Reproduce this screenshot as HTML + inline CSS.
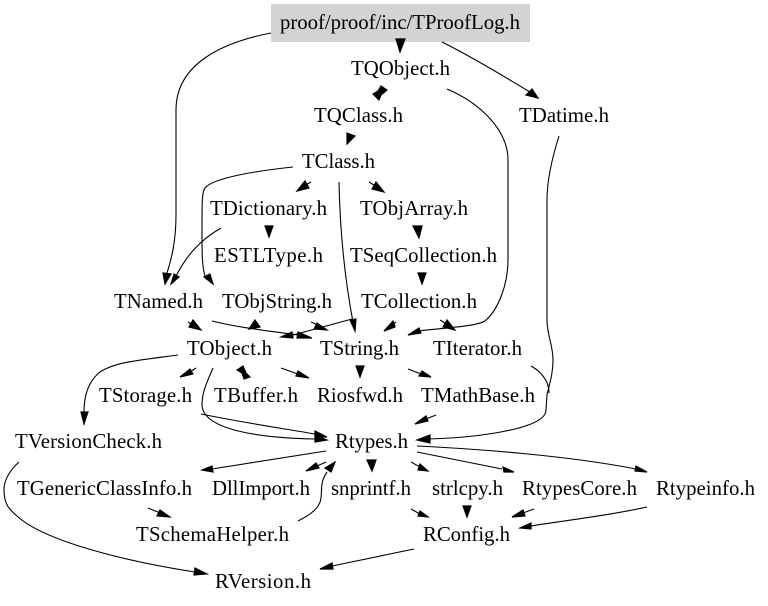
<!DOCTYPE html>
<html><head><meta charset="utf-8"><style>
html,body{margin:0;padding:0;background:#fff;width:768px;height:606px;overflow:hidden}
svg{display:block}
text{font-family:"Liberation Serif",serif;font-size:20.8px;fill:#000}
path{fill:none;stroke:#000;stroke-width:1.1}
polygon{fill:#000;stroke:#000;stroke-width:1.2;stroke-linejoin:miter}
</style></head><body>
<svg width="768" height="606" viewBox="0 0 768 606" xmlns="http://www.w3.org/2000/svg">
<rect x="271" y="4" width="259" height="38" fill="#d3d3d3"/>
<text x="280" y="29" textLength="240">proof/proof/inc/TProofLog.h</text>
<text x="351" y="75" textLength="99">TQObject.h</text>
<text x="314" y="122" textLength="89">TQClass.h</text>
<text x="519" y="122" textLength="90">TDatime.h</text>
<text x="302" y="168" textLength="73">TClass.h</text>
<text x="210" y="215" textLength="117">TDictionary.h</text>
<text x="360" y="215" textLength="108">TObjArray.h</text>
<text x="214" y="262" textLength="109">ESTLType.h</text>
<text x="350" y="262" textLength="147">TSeqCollection.h</text>
<text x="114" y="308" textLength="89">TNamed.h</text>
<text x="222" y="308" textLength="110">TObjString.h</text>
<text x="361" y="308" textLength="116">TCollection.h</text>
<text x="187" y="355" textLength="85">TObject.h</text>
<text x="320" y="355" textLength="79">TString.h</text>
<text x="433" y="355" textLength="89">TIterator.h</text>
<text x="99" y="402" textLength="93">TStorage.h</text>
<text x="214" y="402" textLength="84">TBuffer.h</text>
<text x="317" y="402" textLength="86">Riosfwd.h</text>
<text x="421" y="402" textLength="114">TMathBase.h</text>
<text x="15" y="448" textLength="147">TVersionCheck.h</text>
<text x="335" y="448" textLength="73">Rtypes.h</text>
<text x="17" y="495" textLength="175">TGenericClassInfo.h</text>
<text x="212" y="495" textLength="98">DllImport.h</text>
<text x="331" y="495" textLength="80">snprintf.h</text>
<text x="432" y="495" textLength="71">strlcpy.h</text>
<text x="522" y="495" textLength="115">RtypesCore.h</text>
<text x="656" y="495" textLength="99">Rtypeinfo.h</text>
<text x="136" y="541" textLength="153">TSchemaHelper.h</text>
<text x="423" y="541" textLength="87">RConfig.h</text>
<text x="215" y="588" textLength="96">RVersion.h</text>

<!-- edges -->
<path d="M271,33 C220,43 176,65 176,110 L176,215 C176,240 172,258 166,276"/>
<polygon points="163,273 171,274 165,284"/>
<polygon points="396,39 405,39 400,52"/>
<path d="M442,42 C470,56 500,74 530,92"/>
<polygon points="532,89 526,95 538,98"/>
<polygon points="373,94 379,100 381,95 387,90 381,86 378,91"/>
<path d="M447,89 C480,103 508,130 508,160 L508,260 C508,285 498,310 485,321 C475,327 440,328 419,331"/>
<polygon points="419,328 421,333 408,335"/>
<path d="M559,136 C553,155 547,180 547,200 L547,320 C547,335 553,345 553,360 C553,375 549,385 547,395 L546,410 C546,430 470,438 428,439"/>
<polygon points="430,435 430,443 417,440"/>
<path d="M531,366 C540,371 549,380 549,393"/>
<polygon points="347,133 355,136 347,144"/>
<path d="M311,182 L304,186"/>
<polygon points="297,191 309,188 305,181"/>
<path d="M369,182 L377,187"/>
<polygon points="376,182 372,189 384,192"/>
<path d="M293,167 C255,171 213,178 205,188 C202,192 202,200 202,233 C202,255 202,265 205,276"/>
<polygon points="204,277 210,274 213,284"/>
<path d="M339,182 C340,230 345,280 353,322"/>
<polygon points="350,320 356,319 355,331"/>
<polygon points="265,226 273,226 269,237"/>
<path d="M221,228 C200,240 187,255 176,276"/>
<polygon points="174,274 179,277 171,284"/>
<polygon points="413,226 422,226 419,238"/>
<polygon points="418,273 426,273 422,284"/>
<path d="M396,322 L390,326"/>
<polygon points="393,321 395,327 384,331"/>
<path d="M440,320 L448,325"/>
<polygon points="447,320 443,327 455,330"/>
<path d="M188,322 L196,327"/>
<polygon points="193,320 189,327 201,330"/>
<path d="M212,321 C240,328 270,331 298,335"/>
<polygon points="298,332 297,338 312,338"/>
<polygon points="255,320 249,329 260,327"/>
<path d="M311,322 L320,326"/>
<polygon points="317,323 314,329 327,330"/>
<path d="M352,319 L293,335"/>
<polygon points="292,332 293,338 281,337"/>
<path d="M178,355 C140,360 115,362 100,372 C90,380 84,392 84,412"/>
<polygon points="81,412 88,412 84,424"/>
<path d="M196,368 L190,372"/>
<polygon points="190,369 193,374 180,377"/>
<polygon points="237,370 243,366 246,373 250,377 244,379 242,373"/>
<path d="M281,368 L298,374"/>
<polygon points="298,371 296,376 309,378"/>
<polygon points="356,366 364,366 360,377"/>
<path d="M408,369 L421,374"/>
<polygon points="422,371 419,376 431,377"/>
<path d="M436,415 L426,419"/>
<polygon points="426,416 428,421 415,424"/>
<path d="M213,368 C207,382 202,392 202,405 C203,430 260,438 315,439"/>
<polygon points="315,435 315,442 327,440"/>
<path d="M201,414 C240,422 280,428 315,434"/>
<polygon points="315,431 315,437 327,437"/>
<path d="M326,451 L212,469"/>
<polygon points="212,466 213,472 202,470"/>
<path d="M326,462 L317,466"/>
<polygon points="316,463 319,468 306,471"/>
<path d="M298,521 C310,515 320,508 321,498 C322,490 320,482 327,472"/>
<polygon points="325,468 331,472 335,462"/>
<polygon points="367,460 376,460 372,471"/>
<path d="M411,462 L420,467"/>
<polygon points="420,464 418,470 428,471"/>
<path d="M417,452 L502,469"/>
<polygon points="503,467 504,472 514,472"/>
<path d="M417,446 C480,449 570,456 636,469"/>
<polygon points="636,466 635,471 647,472"/>
<polygon points="463,506 471,506 467,517"/>
<path d="M411,509 L420,514"/>
<polygon points="420,511 418,516 428,517"/>
<path d="M534,509 L523,513"/>
<polygon points="523,510 525,516 512,517"/>
<path d="M647,507 C610,515 570,520 530,526"/>
<polygon points="531,523 531,529 520,528"/>
<path d="M414,549 L332,566"/>
<polygon points="332,563 333,569 320,569"/>
<path d="M19,462 C8,472 4,482 4,490 C4,505 10,510 17,516 C45,542 130,562 195,572"/>
<polygon points="195,568 194,575 207,574"/>
<path d="M148,508 L160,513"/>
<polygon points="160,510 157,516 170,517"/>
</svg>
</body></html>
